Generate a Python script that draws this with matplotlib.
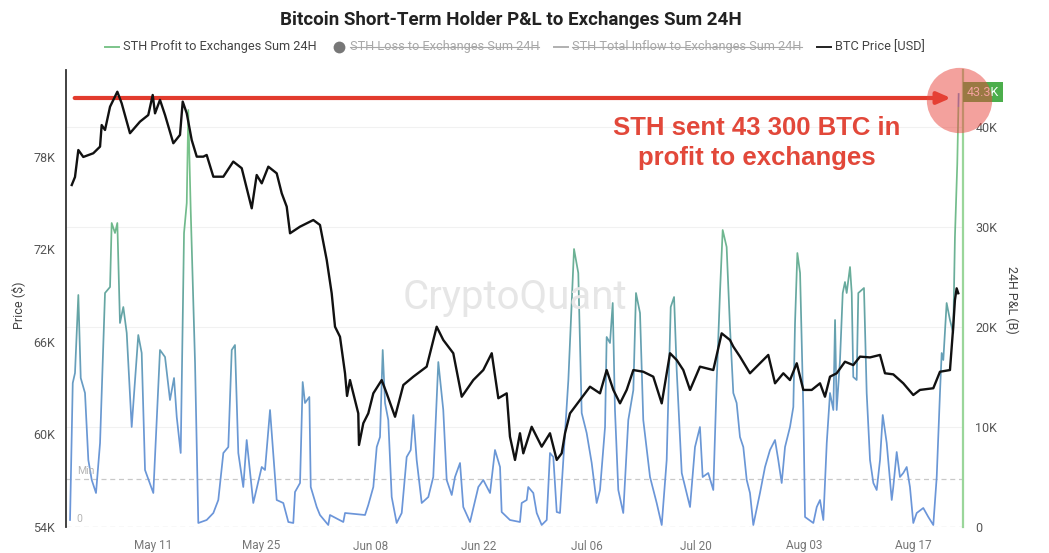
import numpy as np
import matplotlib
matplotlib.use("Agg")
import matplotlib.pyplot as plt
from matplotlib.colors import LinearSegmentedColormap
from matplotlib.patches import Rectangle
from matplotlib.lines import Line2D

plt.rcParams["font.family"] = ["Roboto", "DejaVu Sans"]

# x values are days since May 1
price_days = [-0.48, -0.06, 0.37, 1.01, 2.30, 3.17, 3.38, 3.81, 4.46, 5.40, 5.96, 7.03, 8.32, 9.39,
              9.96, 10.26, 10.90, 11.55, 12.62, 13.48, 13.83, 14.35, 14.99, 15.64, 16.49, 16.92,
              17.78, 19.07, 20.35, 21.44, 22.73, 23.37, 24.02, 24.87, 25.95, 26.60, 27.24, 27.67,
              28.96, 30.67, 31.53, 32.40, 33.04, 33.47, 34.11, 34.76, 35.02, 35.40, 36.47, 36.56,
              37.12, 37.76, 38.41, 39.49, 40.13, 41.21, 42.28, 43.57, 45.29, 45.94, 46.58, 47.43,
              48.72, 49.81, 51.30, 52.59, 53.68, 54.53, 55.61, 56.03, 56.68, 57.32, 57.75, 58.83,
              60.12, 61.19, 62.06, 62.70, 63.13, 63.77, 65.06, 66.35, 67.64, 68.50, 69.36, 70.22,
              71.08, 71.94, 73.22, 74.51, 75.60, 76.67, 77.53, 78.38, 79.25, 80.53, 82.25, 83.33,
              84.40, 84.83, 85.69, 86.98, 88.27, 89.34, 90.21, 91.28, 92.14, 93.01, 93.86, 94.94,
              96.01, 96.65, 97.30, 98.16, 99.23, 100.30, 101.17, 102.46, 103.75, 104.39, 105.46,
              106.75, 108.04, 108.90, 110.62, 111.48, 112.77, 113.19, 113.41, 113.63, 113.84]
price_k = [76.18, 76.70, 78.45, 78.00, 78.24, 78.67, 80.07, 79.75, 81.26, 82.23, 81.48, 79.54, 80.29,
           80.72, 82.02, 80.83, 81.70, 80.72, 78.89, 79.43, 81.59, 80.83, 79.10, 78.02, 78.02, 78.13,
           76.72, 76.72, 77.70, 77.27, 74.67, 76.83, 76.29, 77.37, 76.94, 75.64, 74.78, 73.05, 73.48,
           73.91, 73.59, 71.32, 69.16, 66.99, 66.34, 63.97, 62.50, 63.53, 61.37, 59.32, 60.73, 61.37,
           62.67, 63.53, 62.67, 61.15, 63.21, 63.75, 64.40, 65.70, 66.99, 66.13, 65.27, 62.45, 63.53,
           64.18, 65.27, 62.35, 62.67, 59.86, 58.35, 60.08, 58.78, 60.50, 59.21, 60.08, 58.35, 58.78,
           60.08, 61.37, 62.24, 63.10, 62.67, 64.18, 62.89, 62.02, 62.89, 64.18, 64.07, 63.75, 62.02,
           65.27, 64.83, 64.18, 62.89, 64.40, 64.18, 66.56, 66.13, 65.70, 65.05, 63.97, 64.62, 65.16,
           63.32, 63.97, 63.53, 64.62, 62.89, 62.89, 63.32, 62.45, 63.75, 63.97, 64.72, 64.50, 65.05,
           65.00, 65.16, 63.97, 63.90, 63.32, 62.56, 62.89, 63.00, 64.07, 64.18, 66.99, 68.72, 69.48,
           69.16]

profit_days = [-0.70, -0.35, -0.06, 0.37, 0.68, 1.23, 1.66, 2.10, 2.65, 3.17, 3.81, 4.46, 4.67, 5.10,
               5.40, 5.74, 6.17, 6.61, 7.25, 8.10, 8.54, 8.97, 10.04, 10.90, 11.55, 12.19, 12.71,
               13.06, 13.57, 14.00, 14.35, 14.55, 14.86, 15.42, 15.84, 16.92, 17.78, 18.42, 19.07,
               19.71, 20.15, 20.57, 21.00, 21.64, 22.08, 22.93, 24.02, 24.44, 25.09, 25.95, 26.80,
               27.45, 28.09, 28.31, 28.96, 29.30, 29.60, 30.16, 30.34, 31.11, 31.53, 32.60, 32.82,
               34.54, 34.76, 37.34, 37.76, 38.41, 38.85, 39.27, 39.62, 39.92, 40.34, 40.78, 41.42,
               42.07, 42.71, 43.23, 43.57, 44.00, 44.65, 45.50, 46.14, 46.79, 47.43, 47.87, 48.52,
               48.94, 49.59, 50.01, 50.88, 51.95, 52.59, 53.46, 54.10, 54.75, 54.96, 56.03, 57.32,
               57.54, 58.19, 58.39, 59.04, 59.48, 60.12, 60.77, 61.19, 61.62, 62.06, 62.48, 62.91,
               63.56, 64.00, 64.29, 64.84, 65.28, 65.92, 66.57, 67.21, 67.64, 68.29, 68.50, 68.93,
               69.28, 69.57, 70.00, 70.64, 71.29, 71.94, 72.28, 72.80, 73.22, 74.09, 74.95, 75.60,
               76.24, 76.76, 77.19, 77.53, 78.18, 79.25, 79.89, 80.53, 80.88, 81.60, 82.25, 82.68,
               83.11, 83.46, 83.97, 84.40, 84.83, 85.26, 85.69, 86.12, 86.56, 86.98, 87.41, 88.27,
               88.92, 89.56, 90.21, 90.63, 91.07, 91.50, 92.14, 92.57, 92.79, 93.09, 93.44, 93.86,
               94.08, 95.15, 95.59, 96.01, 96.44, 96.88, 97.30, 97.73, 97.95, 98.16, 98.59, 98.94,
               99.23, 99.45, 99.88, 100.10, 100.30, 100.74, 100.95, 101.39, 101.68, 102.03, 102.46,
               102.89, 103.32, 103.75, 104.10, 104.61, 105.26, 105.46, 105.90, 106.32, 106.75,
               107.19, 107.61, 108.04, 108.48, 109.33, 109.98, 110.62, 111.06, 111.48, 111.70,
               111.91, 112.34, 112.77, 113.19, 113.41, 113.71, 113.89]
profit_k = [0.7, 14.4, 15.4, 23.2, 14.9, 13.4, 6.7, 4.7, 3.4, 8.4, 23.4, 24.0, 30.4, 29.4, 30.4, 20.4,
            22.0, 19.4, 10.0, 19.2, 17.4, 5.7, 3.4, 17.7, 17.0, 12.7, 14.9, 11.0, 7.4, 29.4, 32.4, 41.7,
            31.7, 16.4, 0.4, 0.7, 1.4, 2.7, 7.4, 8.0, 17.7, 18.2, 7.4, 4.0, 8.7, 2.4, 6.0, 5.7, 11.7,
            2.7, 2.4, 0.5, 0.4, 3.5, 4.4, 14.5, 12.4, 13.0, 4.0, 2.0, 1.2, 0.2, 1.2, 0.5, 1.4, 1.2,
            2.2, 4.0, 8.0, 9.0, 17.7, 12.4, 10.7, 3.0, 0.4, 1.4, 7.0, 7.7, 11.2, 6.7, 2.4, 3.0, 5.0,
            16.5, 11.7, 4.7, 3.2, 5.0, 6.4, 2.0, 0.5, 4.0, 4.7, 3.4, 7.7, 6.0, 1.5, 0.7, 0.5, 2.4,
            2.7, 4.0, 3.4, 1.4, 0.2, 0.7, 7.4, 7.0, 1.5, 1.4, 6.7, 14.7, 22.7, 27.8, 25.4, 11.4, 9.4,
            6.4, 2.4, 3.7, 10.0, 19.0, 18.4, 22.4, 11.7, 3.7, 1.4, 10.7, 13.7, 23.4, 21.4, 10.7, 5.0,
            2.4, 0.2, 6.7, 22.0, 23.0, 15.7, 5.4, 2.0, 8.0, 10.0, 5.0, 5.4, 3.7, 14.4, 23.4, 29.7,
            28.0, 20.0, 13.4, 12.4, 9.0, 8.0, 4.7, 3.4, 0.2, 3.4, 6.0, 7.7, 8.7, 6.7, 4.4, 8.0, 10.0,
            12.0, 20.4, 27.4, 25.4, 11.7, 1.0, 0.4, 2.0, 2.7, 0.7, 8.4, 13.4, 11.7, 20.7, 11.7, 16.7,
            23.4, 24.5, 23.4, 26.0, 23.4, 15.0, 14.7, 23.4, 23.7, 23.9, 13.4, 6.7, 4.4, 3.7, 6.7,
            11.2, 8.4, 2.7, 4.0, 7.5, 5.0, 5.4, 6.0, 4.0, 0.4, 1.4, 1.9, 1.0, 0.2, 5.0, 13.4, 17.4,
            16.7, 22.4, 20.7, 19.4, 29.0, 36.3, 43.3]

tick_days = [10, 24, 38, 52, 66, 80, 94, 108]
tick_labels = ["May 11", "May 25", "Jun 08", "Jun 22", "Jul 06", "Jul 20", "Aug 03", "Aug 17"]
price_ticks = [54, 60, 66, 72, 78]
pl_ticks = [0, 10, 20, 30, 40]
min_level = 4.8
peak_value = 43.3

W, H = 1049, 553
fig = plt.figure(figsize=(W / 100, H / 100), dpi=100)
ax = fig.add_axes([66 / W, 26 / H, 897 / W, 457 / H])
axr = ax.twinx()
axr.set_position(ax.get_position())
ax.set_zorder(axr.get_zorder() + 1)
ax.patch.set_visible(False)

xlim = (-1.22, 114.45)
ax.set_xlim(*xlim)
ax.set_ylim(54, 83.64)
axr.set_ylim(0, 45.7)

# gradient profit line: blue at low values, green at high
cmap = LinearSegmentedColormap.from_list(
    "pl", [(0, "#6b95da"), (0.25, "#6a98d4"), (0.5, "#64a3a6"), (0.72, "#70b98c"), (1, "#7ec98a")])
band = 0.5
for lo in np.arange(0, 45.7, band):
    ln, = axr.plot(profit_days, profit_k, color=cmap(min((lo + band / 2) / 42, 1)), lw=1.25,
                   solid_joinstyle="round", zorder=3)
    ln.set_clip_path(Rectangle((xlim[0], lo), xlim[1] - xlim[0], band, transform=axr.transData))

for lvl, lab in [(min_level, "Min"), (0, "0")]:
    axr.axhline(lvl, color="#c8c8c8", lw=0.9, ls=(0, (4, 3)), zorder=2)
    axr.text(0.012, lvl + 0.35, lab, transform=axr.get_yaxis_transform(), color="#b5b5b5",
             fontsize=7.5, va="bottom", ha="left")
for t in pl_ticks[1:]:
    axr.axhline(t, color="#f1f1f1", lw=0.8, zorder=1)

ax.plot(price_days, price_k, color="#111111", lw=1.7, zorder=4)

ax.text(0.5, 0.503, "CryptoQuant", transform=ax.transAxes, ha="center", va="center",
        fontsize=29, color="#e6e6e6", zorder=0)

# axes styling
for s in ["top", "bottom", "right"]:
    ax.spines[s].set_visible(False)
for s in ["top", "bottom", "left"]:
    axr.spines[s].set_visible(False)
ax.spines["left"].set_color("#333333")
ax.spines["left"].set_linewidth(1.3)
axr.spines["right"].set_color("#9ad69a")
axr.spines["right"].set_linewidth(1.6)

ax.set_yticks(price_ticks)
ax.set_yticklabels([f"{v}K" for v in price_ticks])
axr.set_yticks(pl_ticks)
axr.set_yticklabels(["0"] + [f"{v}K" for v in pl_ticks[1:]])
ax.set_xticks(tick_days)
ax.set_xticklabels(tick_labels)
ax.tick_params(axis="y", length=0, pad=8, labelsize=9, labelcolor="#555555")
axr.tick_params(axis="y", length=0, pad=9, labelsize=9, labelcolor="#555555")
ax.tick_params(axis="x", length=0, pad=9, labelsize=8.5, labelcolor="#777777")

fig.text(18 / W, 1 - 305 / H, "Price (\\$)", rotation=90, ha="center", va="center",
         fontsize=9, color="#444444")
fig.text(1012 / W, 1 - 300 / H, "24H P&L (B)", rotation=270, ha="center", va="center",
         fontsize=9, color="#444444")

# annotation
peak_day = profit_days[-1]
axr.annotate("", xy=(peak_day - 1.0, peak_value - 0.4), xytext=(profit_days[0] + 0.6, peak_value - 0.4),
             arrowprops=dict(arrowstyle="-|>,head_length=0.8,head_width=0.35", color="#e23b2d",
                             lw=3, shrinkA=0, shrinkB=0), zorder=8, annotation_clip=False)
axr.annotate(f"{peak_value:.1f}K", xy=(1.0, peak_value + 0.2), xycoords=("axes fraction", "data"),
             xytext=(3, 0), textcoords="offset points", ha="left", va="center", fontsize=9,
             color="white", bbox=dict(boxstyle="square,pad=0.3", fc="#4cae4c", ec="none"),
             zorder=9, annotation_clip=False)
axr.plot([peak_day], [peak_value - 0.6], "o", ms=47, color="#e8453c", alpha=0.5, mec="none",
         zorder=10, clip_on=False)
fig.text(757 / W, 1 - 143 / H, "STH sent 43 300 BTC in\nprofit to exchanges", ha="center",
         va="center", fontsize=18.5, fontweight="bold", color="#e2483a",
         family=["Liberation Sans", "DejaVu Sans"], linespacing=1.3, zorder=12)

fig.text(511 / W, 1 - 20 / H, "Bitcoin Short-Term Holder P&L to Exchanges Sum 24H",
         ha="center", va="center", fontsize=13.5, fontweight="bold", color="#222222")

# legend row
legend_items = [
    ("line", "#7cc48a", "STH Profit to Exchanges Sum 24H", "#444444", False),
    ("dot", "#777777", "STH Loss to Exchanges Sum 24H", "#a8a8a8", True),
    ("line", "#b0b0b0", "STH Total Inflow to Exchanges Sum 24H", "#a8a8a8", True),
    ("line", "#222222", "BTC Price [USD]", "#444444", False),
]
renderer = fig.canvas.get_renderer()
ly = 1 - 47 / H
texts = []
widths = []
for kind, hc, label, tc, strike in legend_items:
    t = fig.text(0, ly, label, fontsize=9.2, color=tc, ha="left", va="center")
    widths.append(t.get_window_extent(renderer).width)
    texts.append(t)
handle_w, gap_in, gap_out = 14, 4, 15
total = sum(handle_w + gap_in + w for w in widths) + gap_out * (len(widths) - 1)
x = 515 - total / 2
for (kind, hc, label, tc, strike), t, w in zip(legend_items, texts, widths):
    if kind == "line":
        fig.add_artist(Line2D([x / W, (x + handle_w) / W], [ly, ly], color=hc, lw=1.4,
                              transform=fig.transFigure))
    else:
        fig.add_artist(Line2D([(x + handle_w / 2) / W], [ly], marker="o", ms=8.5, color=hc,
                              mec="none", transform=fig.transFigure))
    tx = x + handle_w + gap_in
    t.set_x(tx / W)
    if strike:
        fig.add_artist(Line2D([tx / W, (tx + w) / W], [ly, ly], color=tc, lw=0.8,
                              transform=fig.transFigure))
    x = tx + w + gap_out

fig.savefig("out.png", dpi=100)
